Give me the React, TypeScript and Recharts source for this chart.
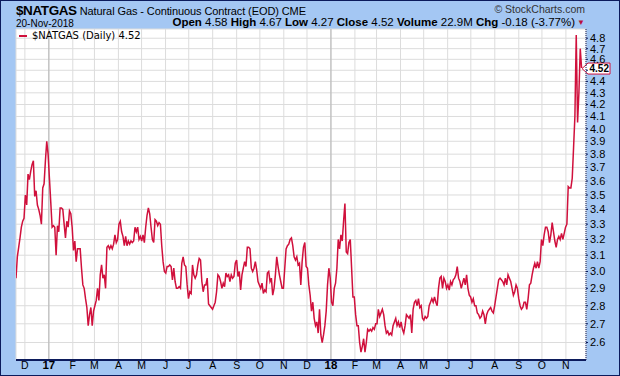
import { LineChart, Line, XAxis, YAxis, CartesianGrid, ReferenceLine } from "recharts"

const FONT = '"Liberation Sans", Arial, sans-serif'
const NAVY = "#0c1b5c"
const RED = "#d0103c"
const DAY = 86400000

// samples roughly every 1.73 calendar days starting 19-Nov-2016
const START = Date.UTC(2016, 10, 19, 12)
const STEP_DAYS = 1.73
const END_DAYS = 737.5

const dec16ToJul17 = [
  2.96, 3.09, 3.15, 3.21, 3.28, 3.32, 3.34, 3.5, 3.43, 3.65,
  3.61, 3.67, 3.72, 3.75, 3.49, 3.53, 3.43, 3.4, 3.36, 3.3,
  3.55, 3.58, 3.75, 3.9, 3.8, 3.62, 3.45, 3.28, 3.29, 3.28,
  3.1, 3.29, 3.25, 3.41, 3.41, 3.4, 3.3, 3.21, 3.32, 3.28,
  3.39, 3.37, 3.28, 3.13, 3.19, 3.06, 3.14, 3.14, 3.14, 3.02,
  2.92, 2.9, 2.84, 2.79, 2.69, 2.75, 2.79, 2.69, 2.77, 2.8,
  2.83, 2.9, 2.83, 2.98, 3.04, 2.96, 2.98, 2.9, 3.15, 3.16,
  3.14, 3.16, 3.14, 3.17, 3.23, 3.18, 3.2, 3.3, 3.32, 3.25,
  3.22, 3.16, 3.22, 3.16, 3.19, 3.17, 3.19, 3.18, 3.19, 3.28,
  3.25, 3.28, 3.2, 3.22, 3.19, 3.23, 3.18, 3.28, 3.36, 3.41,
  3.37, 3.28, 3.2, 3.18, 3.33, 3.32, 3.29, 3.31, 3.3, 3.16,
  3.06, 3.0, 2.99, 3.03, 3.03, 3.04, 3.03, 2.95, 3.02, 2.94,
  2.9, 2.9, 2.91, 2.9, 3.05, 3.09, 3.04, 3.03, 2.92, 2.84,
  2.88, 2.87, 3.04, 2.98, 2.96, 2.98, 3.04, 3.08,
]

const jul17ToMar18 = [
  3.07, 2.94, 2.88, 2.92, 2.92, 2.96, 2.81, 2.8, 2.79, 2.78,
  2.8, 2.82, 2.88, 2.98, 2.97, 2.94, 2.9, 2.93, 2.91, 2.99,
  2.97, 2.98, 2.94, 2.98, 2.96, 2.97, 3.05, 3.07, 2.97, 3.0,
  2.89, 2.98, 3.02, 3.06, 3.03, 3.15, 3.15, 3.14, 3.02, 3.0,
  3.02, 3.06, 3.01, 2.94, 2.92, 2.9, 2.93, 2.87, 2.89, 2.88,
  2.99, 3.0, 2.94, 2.96, 2.86, 2.9, 2.98, 3.09, 3.03, 2.98,
  2.94, 2.9, 2.9, 3.02, 3.14, 3.16, 3.17, 3.2, 3.21, 3.16,
  3.09, 3.07, 3.09, 3.04, 3.05, 2.92, 3.06, 3.15, 3.18, 3.03,
  3.02, 2.92, 2.86, 2.77, 2.82, 2.73, 2.69, 2.71, 2.65, 2.78,
  2.64, 2.6, 2.64, 2.69, 2.77, 2.92, 3.02, 2.96, 2.82, 2.8,
  2.9, 2.93, 3.02, 3.2, 3.14, 3.23, 3.19, 3.32, 3.44, 3.12,
  3.11, 3.18, 3.2, 3.02, 2.85, 2.85, 2.75, 2.69, 2.69, 2.6,
  2.55, 2.58, 2.62, 2.55, 2.6, 2.67, 2.66, 2.67, 2.66, 2.68,
  2.67, 2.7, 2.7, 2.78, 2.74,
]

const mar18ToNov18 = [
  2.76, 2.78, 2.75, 2.69, 2.65, 2.66, 2.64, 2.65, 2.64, 2.69,
  2.71, 2.73, 2.69, 2.71, 2.68, 2.71, 2.67, 2.65, 2.69, 2.75,
  2.74, 2.73, 2.75, 2.65, 2.78, 2.82, 2.83, 2.8, 2.84, 2.79,
  2.8, 2.73, 2.72, 2.74, 2.73, 2.74, 2.8, 2.82, 2.84, 2.82,
  2.85, 2.82, 2.8, 2.9, 2.96, 2.97, 2.9, 2.96, 2.94, 2.9,
  2.92, 2.89, 2.94, 2.92, 2.95, 2.96, 2.98, 3.03, 2.96, 2.94,
  2.9, 2.93, 2.96, 2.92, 2.98, 2.9, 2.86, 2.85, 2.82, 2.84,
  2.8, 2.8, 2.76, 2.75, 2.73, 2.74, 2.77, 2.75, 2.7, 2.75,
  2.77, 2.78, 2.79, 2.77, 2.76, 2.8, 2.85, 2.9, 2.95, 2.96,
  2.95, 2.94, 2.92, 2.96, 2.92, 2.98, 2.96, 2.94, 2.9, 2.86,
  2.88, 2.92, 2.9, 2.84, 2.8, 2.78, 2.79, 2.82, 2.82, 2.78,
  2.84, 2.92, 2.93, 2.98, 3.02, 3.05, 3.02, 3.06, 3.02, 3.06,
  3.2, 3.16, 3.23, 3.28, 3.28, 3.25, 3.18, 3.23, 3.31, 3.25,
  3.19, 3.15, 3.2, 3.22, 3.2, 3.24, 3.2, 3.24, 3.28, 3.3,
]

const novSpike = [3.56, 3.55, 3.55, 3.62, 3.85, 4.1, 4.83, 4.05, 4.3, 4.7, 4.52]

const prices = [...dec16ToJul17, ...jul17ToMar18, ...mar18ToNov18, ...novSpike]
const data = prices.map((close, i) => ({ t: START + i * STEP_DAYS * DAY, close }))
const lastClose = prices[prices.length - 1]

const months = [
  [2016, 11], [2017, 0], [2017, 1], [2017, 2], [2017, 3], [2017, 4], [2017, 5],
  [2017, 6], [2017, 7], [2017, 8], [2017, 9], [2017, 10], [2017, 11], [2018, 0],
  [2018, 1], [2018, 2], [2018, 3], [2018, 4], [2018, 5], [2018, 6], [2018, 7],
  [2018, 8], [2018, 9], [2018, 10],
]
const monthTicks = months.map(([y, m]) => Date.UTC(y, m, 1))
const yearTicks = monthTicks.filter((t) => new Date(t).getUTCMonth() === 0)

const yTicks = [
  2.6, 2.7, 2.8, 2.9, 3.0, 3.1, 3.2, 3.3, 3.4, 3.5, 3.6, 3.7,
  3.8, 3.9, 4.0, 4.1, 4.2, 4.3, 4.4, 4.5, 4.6, 4.7, 4.8,
]

const MONTH_LETTERS = "JFMAMJJASOND"

function MonthTick(props: any) {
  const { x, y, payload } = props
  const d = new Date(payload.value)
  const m = d.getUTCMonth()
  const isYear = m === 0
  return (
    <text
      x={x}
      y={y + 1}
      textAnchor="middle"
      fontFamily={FONT}
      fontSize={isYear ? 11.5 : 10.5}
      fontWeight={isYear ? 700 : 400}
      fill="#000"
    >
      {isYear ? String(d.getUTCFullYear()).slice(2) : MONTH_LETTERS[m]}
    </text>
  )
}

function LastValueTag(props: any) {
  const { viewBox } = props
  const x0 = viewBox.x + viewBox.width
  const y = viewBox.y + 0.5
  return (
    <g>
      <path
        d={`M${x0 - 4},${y} L${x0 + 2},${y - 5.5} L${x0 + 24},${y - 5.5} L${x0 + 24},${y + 5.5} L${x0 + 2},${y + 5.5} Z`}
        fill="#fff"
        stroke={RED}
        strokeWidth={1}
      />
      <text x={x0 + 3.5} y={y + 3.5} fontFamily={FONT} fontSize={10} fontWeight={700} fill="#000">
        {lastClose.toFixed(2)}
      </text>
    </g>
  )
}

export default function App() {
  return (
    <div
      style={{
        position: "absolute",
        left: 0,
        top: 0,
        width: 620,
        height: 376,
        background: "#a4c7f3",
        border: `1px solid ${NAVY}`,
        boxSizing: "border-box",
        fontFamily: FONT,
        color: "#000",
      }}
    >
      <div style={{ position: "absolute", left: -1, top: -1 }}>
        <LineChart width={620} height={376} data={data} margin={{ top: 29, right: 0, left: 16, bottom: 0 }}>
          <CartesianGrid stroke="#dcdcdc" fill="#fff" />
          {yearTicks.map((t) => (
            <ReferenceLine key={t} x={t} stroke="#b4b4b4" />
          ))}
          <XAxis
            dataKey="t"
            type="number"
            domain={[START, START + END_DAYS * DAY]}
            allowDataOverflow
            ticks={monthTicks}
            interval={0}
            height={16}
            tick={<MonthTick />}
            tickLine={false}
            axisLine={{ stroke: NAVY, strokeWidth: 2 }}
          />
          <XAxis xAxisId="top" orientation="top" height={0} tick={false} tickLine={false} axisLine={{ stroke: NAVY, strokeWidth: 1.5 }} />
          <YAxis yAxisId="left" orientation="left" width={0} tick={false} tickLine={false} axisLine={{ stroke: NAVY, strokeWidth: 2 }} />
          <YAxis
            orientation="right"
            type="number"
            scale="log"
            domain={[2.51, 4.89]}
            allowDataOverflow
            ticks={yTicks}
            interval={0}
            width={34}
            tickSize={2}
            tickMargin={2}
            tickFormatter={(v: number) => (Math.abs(v - lastClose) < 0.05 ? "" : v.toFixed(1))}
            tick={{ fontSize: 11, fill: "#000", fontFamily: FONT }}
            tickLine={{ stroke: NAVY }}
            axisLine={{ stroke: NAVY, strokeDasharray: "1 1" }}
          />
          <ReferenceLine y={lastClose} stroke="none" label={(p: any) => <LastValueTag {...p} />} />
          <Line
            type="linear"
            dataKey="close"
            stroke={RED}
            strokeWidth={1.5}
            dot={false}
            isAnimationActive={false}
          />
        </LineChart>
      </div>

      <div style={{ position: "absolute", left: 15, top: 0, whiteSpace: "nowrap" }}>
        <span style={{ fontSize: 13.5, fontWeight: 700, letterSpacing: -0.4 }}>$NATGAS</span>
        <span style={{ fontSize: 11, marginLeft: 3, letterSpacing: -0.1 }}>Natural Gas - Continuous Contract (EOD) CME</span>
      </div>
      <div style={{ position: "absolute", right: 34, top: 2, fontSize: 10.5, color: "#333" }}>© StockCharts.com</div>
      <div style={{ position: "absolute", left: 15, top: 17, fontSize: 10 }}>20-Nov-2018</div>
      <div style={{ position: "absolute", right: 44, top: 15, fontSize: 11.5, whiteSpace: "nowrap" }}>
        <b>Open</b> 4.58 <b>High</b> 4.67 <b>Low</b> 4.27 <b>Close</b> 4.52 <b>Volume</b> 22.9M <b>Chg</b> -0.18 (-3.77%)
      </div>
      <div style={{ position: "absolute", right: 34, top: 17, fontSize: 8, color: "#b8103c" }}>▼</div>

      <div
        style={{
          position: "absolute",
          left: 18,
          top: 29,
          fontSize: 10,
          fontFamily: '"DejaVu Sans", Verdana, sans-serif',
          display: "flex",
          alignItems: "center",
          whiteSpace: "nowrap",
        }}
      >
        <span style={{ display: "inline-block", width: 8, height: 2, background: RED, marginRight: 5 }} />
        $NATGAS (Daily) 4.52
      </div>
    </div>
  )
}
